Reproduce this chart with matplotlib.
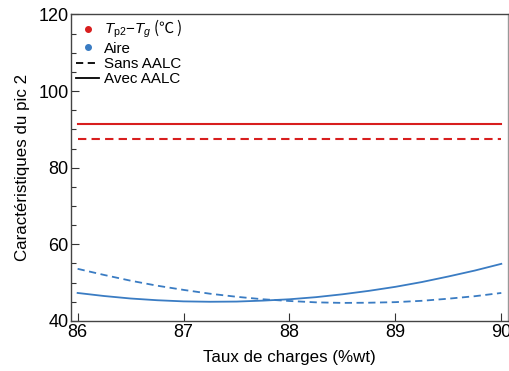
import matplotlib.pyplot as plt
import numpy as np
from matplotlib.lines import Line2D
from matplotlib.ticker import MultipleLocator

plt.rcParams["font.family"] = ["Liberation Sans", "Noto Sans CJK SC"]
plt.rcParams["mathtext.fontset"] = "custom"
plt.rcParams["mathtext.rm"] = "Liberation Sans"
plt.rcParams["mathtext.sf"] = "Liberation Sans"
plt.rcParams["mathtext.it"] = "Liberation Sans:italic"

# data
taux = [86.0, 86.25, 86.5, 86.75, 87.0, 87.25, 87.5, 87.75, 88.0,
        88.25, 88.5, 88.75, 89.0, 89.25, 89.5, 89.75, 90.0]
tp2_sans = [87.6] * len(taux)
tp2_avec = [91.4] * len(taux)
aire_sans = [53.6, 52.0, 50.5, 49.2, 48.1, 47.1, 46.3, 45.65, 45.2,
             44.85, 44.7, 44.75, 44.9, 45.25, 45.8, 46.45, 47.3]
aire_avec = [47.3, 46.5, 45.85, 45.4, 45.1, 45.0, 45.05, 45.3, 45.65,
             46.2, 46.95, 47.85, 48.9, 50.15, 51.6, 53.15, 54.9]

red = "#d81e1e"
blue = "#3a7cc3"

fig = plt.figure(figsize=(5.09, 3.71), dpi=100)
ax = fig.add_axes([0.14, 0.135, 0.858, 0.826])

ax.plot(taux, tp2_avec, color=red, lw=1.5)
ax.plot(taux, tp2_sans, color=red, lw=1.5, ls=(0, (4, 2.5)))
ax.plot(taux, aire_avec, color=blue, lw=1.3)
ax.plot(taux, aire_sans, color=blue, lw=1.3, ls=(0, (4, 2.5)))

ax.set_xlim(85.94, 90.063)
ax.set_ylim(40, 120)
ax.set_xticks([86, 87, 88, 89, 90])
ax.yaxis.set_major_locator(MultipleLocator(20))
ax.yaxis.set_minor_locator(MultipleLocator(5))
ax.tick_params(direction="in", labelsize=13, length=5.5, width=0.8, colors="#333333",
               labelcolor="black", pad=2)
ax.tick_params(which="minor", direction="in", length=3.5, width=0.8, colors="#333333")
for s in ax.spines.values():
    s.set_color("#444444")
    s.set_linewidth(1.0)
ax.spines["right"].set_color("#999999")

ax.set_xlabel("Taux de charges (%wt)", fontsize=12.2, labelpad=7)
ax.set_ylabel("Caractéristiques du pic 2", fontsize=12.2, labelpad=6)

handles = [
    Line2D([], [], color=red, marker="o", ls="none", ms=4),
    Line2D([], [], color=blue, marker="o", ls="none", ms=4),
    Line2D([], [], color="black", ls=(0, (4, 2.5)), lw=1.3),
    Line2D([], [], color="black", lw=1.3),
]
labels = [r"$T_{\mathsf{p2}}{-}T_g$ (℃ )", "Aire", "Sans AALC", "Avec AALC"]
leg = ax.legend(handles, labels, loc="upper left", frameon=False, fontsize=10.9,
                handlelength=1.5, handletextpad=0.3, labelspacing=0.08,
                borderaxespad=0.0, borderpad=0.2, bbox_to_anchor=(0.005, 0.998))
# the degree sign glyph only exists in the CJK font
leg.get_texts()[0].set_fontfamily(["Noto Sans CJK SC"])

fig.savefig("out.png", dpi=100)
